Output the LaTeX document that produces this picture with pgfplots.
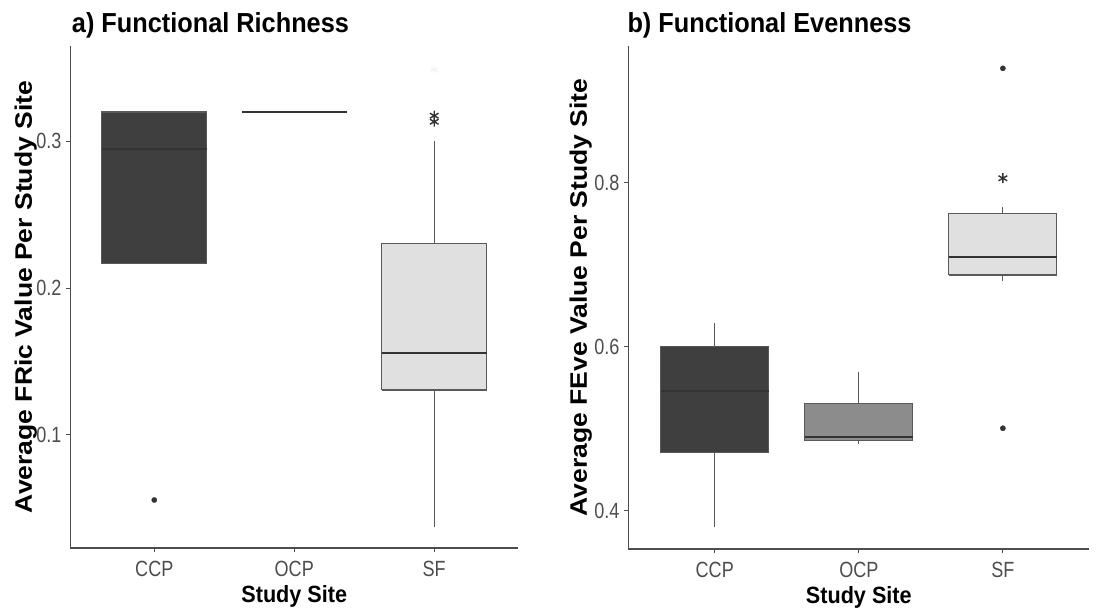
\documentclass[border=0pt]{standalone}
\usepackage{fontspec}
\setmainfont{Liberation Sans}
\newfontfamily\tickfont{Liberation Sans}[FakeStretch=0.82]
\newfontfamily\labfont{Liberation Sans}[FakeStretch=0.92]
\usepackage{graphicx}
\usepackage{pgfplots}
\pgfplotsset{compat=1.18}
\definecolor{cdark}{HTML}{3F3F3F}
\definecolor{cmid}{HTML}{8C8C8C}
\definecolor{clight}{HTML}{E0E0E0}
\definecolor{edge}{HTML}{595959}
\definecolor{axgray}{HTML}{4D4D4D}
\definecolor{medc}{HTML}{333333}
\pgfplotsset{
  myaxis/.style={
    scale only axis,
    axis x line*=bottom, axis y line*=left,
    axis line style={axgray, line width=1.3bp},
    xmin=0.4, xmax=3.6,
    xtick={1,2,3}, xticklabels={CCP,OCP,SF},
    tick align=outside, major tick length=4bp,
    tick style={axgray, line width=1bp},
    xticklabel style={font=\tickfont\fontsize{22bp}{22bp}\selectfont, text=axgray, anchor=base, inner sep=0pt, yshift=-24.7bp},
    yticklabel style={font=\tickfont\fontsize{22bp}{22bp}\selectfont, text=axgray, anchor=east, inner sep=0pt, xshift=-4.6bp},
    every axis x label/.style={at={([yshift=-54bp]axis description cs:0.5,0)}, anchor=base, inner sep=0pt, font=\labfont\bfseries\fontsize{23.5bp}{23.5bp}\selectfont},
    every axis title/.style={at={([xshift=1.5bp,yshift=13.5bp]axis description cs:0,1)}, anchor=base west, inner sep=0pt, font=\labfont\bfseries\fontsize{27.5bp}{27.5bp}\selectfont},
    clip=false,
  },
  whisk/.style={draw=edge, line width=1.2bp, mark=none},
  boxs/.style={draw=edge, line width=1.2bp, mark=none, line join=miter},
  med/.style={draw=medc, line width=2.2bp, mark=none},
  outl/.style={only marks, mark=*, mark size=2.6bp, color=medc},
  starl/.style={only marks, mark=asterisk, mark size=5bp, line width=1.4bp, color=medc},
}
\begin{document}
\begin{tikzpicture}
\useasboundingbox (0,0) rectangle (1105bp,610bp);
% ---------- a) Functional Richness ----------
\begin{axis}[myaxis,
  at={(70.3bp,62bp)}, anchor=south west,
  width=447.9bp, height=502bp,
  ymin=0.0229, ymax=0.365,
  ytick={0.1,0.2,0.3}, yticklabels={0.1,0.2,0.3},
  title={a) Functional Richness},
  xlabel={Study Site},
  every axis y label/.style={at={([xshift=-38.5bp]axis description cs:0,0.5)}, rotate=90, anchor=base, inner sep=0pt, font=\bfseries\fontsize{26.5bp}{26.5bp}\selectfont},
  ylabel={\scalebox{1}[0.9]{Average FRic Value Per Study Site}},
]
% CCP
\addplot[boxs, fill=cdark] coordinates {(0.625,0.2166) (1.375,0.2166) (1.375,0.320) (0.625,0.320) (0.625,0.2166)};
\addplot[med] coordinates {(0.625,0.295) (1.375,0.295)};
% OCP
\addplot[med] coordinates {(1.625,0.320) (2.375,0.320)};
% SF
\addplot[whisk] coordinates {(3,0.2304) (3,0.300)};
\addplot[whisk] coordinates {(3,0.1306) (3,0.0374)};
\addplot[boxs, fill=clight] coordinates {(2.625,0.1306) (3.375,0.1306) (3.375,0.2304) (2.625,0.2304) (2.625,0.1306)};
\addplot[med] coordinates {(2.625,0.1556) (3.375,0.1556)};
% outliers
\addplot[outl] coordinates {(1,0.0556)};
\addplot[starl] coordinates {(3,0.3175) (3,0.3134)};
\addplot[only marks, mark=asterisk, mark size=4bp, line width=1bp, color=black!5] coordinates {(3,0.349)};
\end{axis}
% ---------- b) Functional Evenness ----------
\begin{axis}[myaxis,
  at={(628.3bp,61bp)}, anchor=south west,
  width=461bp, height=503bp,
  ymin=0.3537, ymax=0.9665,
  ytick={0.4,0.6,0.8}, yticklabels={0.4,0.6,0.8},
  title={b) Functional Evenness},
  xlabel={Study Site},
  every axis y label/.style={at={([xshift=-41.5bp]axis description cs:0,0.5)}, rotate=90, anchor=base, inner sep=0pt, font=\bfseries\fontsize{26.5bp}{26.5bp}\selectfont},
  ylabel={\scalebox{1}[0.9]{Average FEve Value Per Study Site}},
  every axis title/.append style={xshift=-2.5bp},
]
% CCP
\addplot[whisk] coordinates {(1,0.600) (1,0.6295)};
\addplot[whisk] coordinates {(1,0.4711) (1,0.381)};
\addplot[boxs, fill=cdark] coordinates {(0.625,0.4711) (1.375,0.4711) (1.375,0.600) (0.625,0.600) (0.625,0.4711)};
\addplot[med] coordinates {(0.625,0.5463) (1.375,0.5463)};
% OCP
\addplot[whisk] coordinates {(2,0.5305) (2,0.5698)};
\addplot[whisk] coordinates {(2,0.4854) (2,0.4817)};
\addplot[boxs, fill=cmid] coordinates {(1.625,0.4854) (2.375,0.4854) (2.375,0.5305) (1.625,0.5305) (1.625,0.4854)};
\addplot[med] coordinates {(1.625,0.4906) (2.375,0.4906)};
% SF
\addplot[whisk] coordinates {(3,0.7627) (3,0.7708)};
\addplot[whisk] coordinates {(3,0.6876) (3,0.6803)};
\addplot[boxs, fill=clight] coordinates {(2.625,0.6876) (3.375,0.6876) (3.375,0.7627) (2.625,0.7627) (2.625,0.6876)};
\addplot[med] coordinates {(2.625,0.7099) (3.375,0.7099)};
% outliers
\addplot[outl] coordinates {(3,0.9393) (3,0.5008)};
\addplot[starl] coordinates {(3,0.8054)};
\end{axis}
\end{tikzpicture}
\end{document}
